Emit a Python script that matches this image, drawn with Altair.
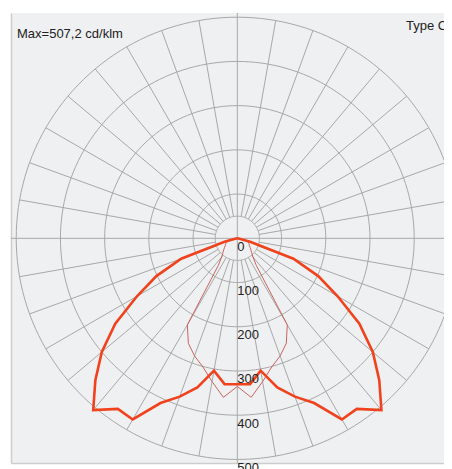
import math
import altair as alt
import pandas as pd

# ---------------- data ----------------
GAMMA = [0, 5, 10, 15, 20, 25, 30, 35, 40, 45, 50, 55, 60, 65, 70, 75, 80, 85, 90]
C0_C180 = [330, 331, 304, 349, 381, 411, 473, 471, 507, 454, 400, 337, 262, 202, 135, 30, 5, 0, 0]
C90_C270 = [335, 361, 329, 301, 283, 262, 226, 75, 55, 46, 40, 35, 31, 29, 27, 18, 10, 4, 0]
RINGS = [50, 100, 200, 300, 400, 500]
RING_LABELS = [0, 100, 200, 300, 400, 500]
SPOKE_ANGLES = [a for a in range(0, 360, 10) if a % 90 != 0]
MAX_TEXT = "Max=507,2 cd/klm"
TYPE_TEXT = "Type C"

FONT = "Liberation Sans"
GRID = "#a8a8a8"

# ---------------- tables built from the arrays ----------------
def curve_rows(name, vals):
    rows = []
    k = 0
    for g, v in reversed(list(zip(GAMMA, vals))):
        t = math.radians(g)
        rows.append({"plane": name, "o": k, "x": -v * math.sin(t), "y": -v * math.cos(t)})
        k += 1
    for g, v in list(zip(GAMMA, vals))[1:]:
        t = math.radians(g)
        rows.append({"plane": name, "o": k, "x": v * math.sin(t), "y": -v * math.cos(t)})
        k += 1
    return rows

thick_df = pd.DataFrame(curve_rows("C0-C180", C0_C180))
thin_df = pd.DataFrame(curve_rows("C90-C270", C90_C270))

ring_rows = []
for r in RINGS:
    for i in range(0, 181):
        t = math.radians(i * 2)
        ring_rows.append({"r": r, "o": i, "x": r * math.cos(t), "y": r * math.sin(t)})
ring_df = pd.DataFrame(ring_rows)

spoke_df = pd.DataFrame([
    {"x": RINGS[0] * math.sin(math.radians(a)), "y": RINGS[0] * math.cos(math.radians(a)),
     "x2": RINGS[-1] * math.sin(math.radians(a)), "y2": RINGS[-1] * math.cos(math.radians(a))}
    for a in SPOKE_ANGLES
])

label_df = pd.DataFrame({"x": [0] * len(RING_LABELS), "y": [-v for v in RING_LABELS],
                         "t": [str(v) for v in RING_LABELS]})

# ---------------- scales ----------------
XS = alt.Scale(domain=[-511.8, 467.4], nice=False, zero=False)
YS = alt.Scale(domain=[-508.1, 509.5], nice=False, zero=False)
AX = alt.Axis(labels=False, ticks=False, grid=False, title=None, domain=True,
              domainColor="#cdcdcd", domainWidth=1.5)


def X(f="x"):
    return alt.X(f + ":Q", scale=XS, axis=AX)


def Y(f="y"):
    return alt.Y(f + ":Q", scale=YS, axis=AX)


rings = alt.Chart(ring_df).mark_line(color=GRID, strokeWidth=1).encode(
    x=X(), y=Y(), detail="r:N", order="o:Q")

spokes = alt.Chart(spoke_df).mark_rule(color=GRID, strokeWidth=1).encode(
    x=X(), y=Y(), x2="x2:Q", y2="y2:Q")

hline = alt.Chart(label_df.head(1)).mark_rule(color=GRID, strokeWidth=1).encode(
    y=Y("x"))
vline = alt.Chart(label_df.head(1)).mark_rule(color=GRID, strokeWidth=1).encode(
    x=X("x"))

thin = alt.Chart(thin_df).mark_line(color="#c8645e", strokeWidth=1).encode(
    x=X(), y=Y(), order="o:Q")
thick = alt.Chart(thick_df).mark_line(color="#f0421c", strokeWidth=2.6,
                                      strokeJoin="miter").encode(
    x=X(), y=Y(), order="o:Q")

labels = alt.Chart(label_df).mark_text(
    align="left", baseline="alphabetic", dy=12.5, fontSize=13, font=FONT, color="#222"
).encode(x=X(), y=Y(), text="t:N")

max_txt = alt.Chart(label_df.head(1)).mark_text(
    align="left", baseline="alphabetic", fontSize=13, font=FONT, color="#222"
).encode(x=alt.value(6), y=alt.value(24.5), text=alt.value(MAX_TEXT))

type_txt = alt.Chart(label_df.head(1)).mark_text(
    align="left", baseline="alphabetic", fontSize=13, font=FONT, color="#222"
).encode(x=alt.value(395), y=alt.value(17), text=alt.value(TYPE_TEXT))

chart = alt.layer(rings, spokes, hline, vline, thin, thick, labels, max_txt, type_txt).properties(
    width=433, height=450,
    autosize=alt.AutoSizeParams(type="none"),
    padding={"left": 3, "top": 5, "right": 0, "bottom": 6},
).configure_view(fill="#eff0f2", stroke=None)

chart.save("out.html", embed_options={"renderer": "svg", "actions": False})
